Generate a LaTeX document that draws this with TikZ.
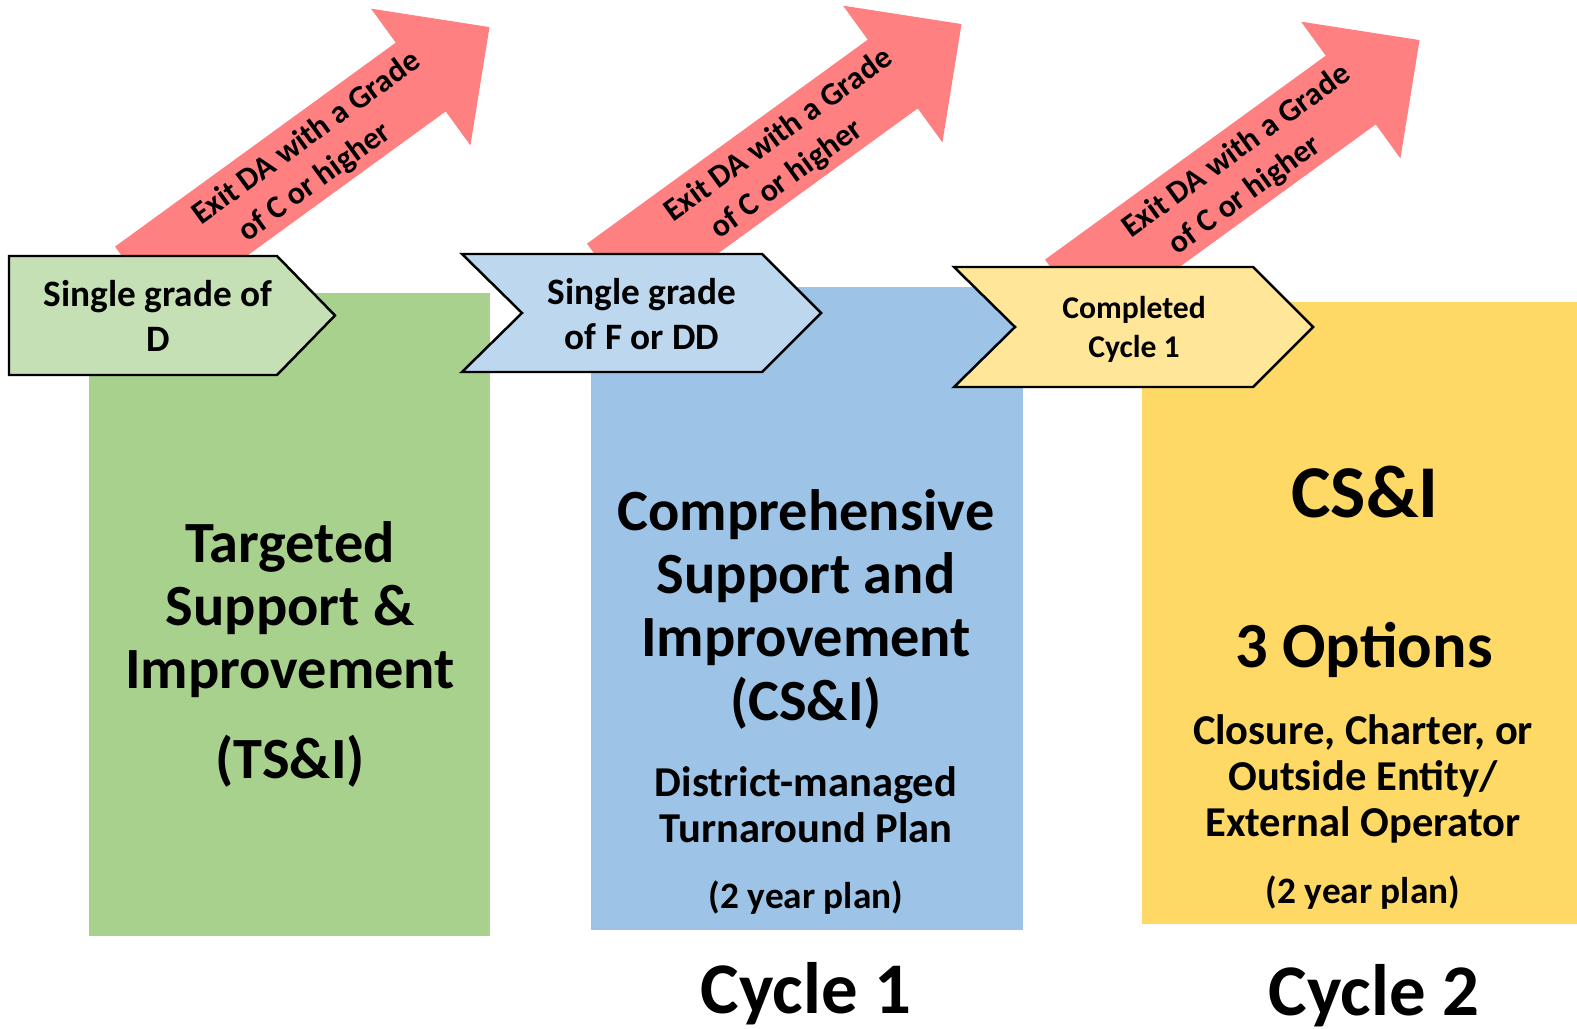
\documentclass[tikz,border=0pt]{standalone}
\usepackage{fontspec}
\setmainfont{Carlito}
\definecolor{exitred}{HTML}{FF8080}
\definecolor{tsigreen}{HTML}{A9D18E}
\definecolor{gradegreen}{HTML}{C5E0B4}
\definecolor{csiblue}{HTML}{9DC3E6}
\definecolor{gradeblue}{HTML}{BDD7EE}
\definecolor{optyellow}{HTML}{FFD966}
\definecolor{gradeyellow}{HTML}{FFE699}
\tikzset{
  exitarrow/.style={fill=exitred},
  exittext/.style={align=center,rotate=36,font={\fontsize{9.1}{11.5}\selectfont\bfseries}},
  gradebox/.style={draw=black,line width=0.7pt,line join=miter},
  gradetext/.style={align=center,font={\fontsize{10.6}{12.8}\selectfont\bfseries}},
  bigtext/.style={align=center,font={\fontsize{16.6}{18}\selectfont\bfseries}},
  subtext/.style={align=center,font={\fontsize{12.1}{13.1}\selectfont\bfseries}},
  plantext/.style={anchor=base,font={\fontsize{10.6}{12.6}\selectfont\bfseries}},
  cycletext/.style={anchor=base,font={\fontsize{20.7}{24}\selectfont\bfseries}},
}
\begin{document}
\begin{tikzpicture}[x=0.01cm,y=-0.01cm]
\useasboundingbox (0,0) rectangle (1577,1028);

\fill[tsigreen](89,293) rectangle (490,936);
\fill[csiblue](591,287) rectangle (1023,930);
\fill[optyellow](1142,302) rectangle (1577,924);

\begin{scope}[shift={(140,281)},rotate=36]
\fill[exitarrow](0,-42.5)--++(347,0)--++(0,-42)--++(85,84.5)--++(-85,84.5)--++(0,-42)--++(-347,0)--cycle;
\node[exittext] (exit1) at (209,3) {\hspace*{5.4pt}Exit DA with a Grade\\of C or higher\hspace*{5.4pt}};
\end{scope}
\begin{scope}[shift={(612,278)},rotate=36]
\fill[exitarrow](0,-42.5)--++(347,0)--++(0,-42)--++(85,84.5)--++(-85,84.5)--++(0,-42)--++(-347,0)--cycle;
\node[exittext] (exit2) at (209,3) {\hspace*{5.4pt}Exit DA with a Grade\\of C or higher\hspace*{5.4pt}};
\end{scope}
\begin{scope}[shift={(1070,294)},rotate=36]
\fill[exitarrow](0,-42.5)--++(347,0)--++(0,-42)--++(85,84.5)--++(-85,84.5)--++(0,-42)--++(-347,0)--cycle;
\node[exittext] (exit3) at (209,3) {\hspace*{5.4pt}Exit DA with a Grade\\of C or higher\hspace*{5.4pt}};
\end{scope}

\draw[gradebox,fill=gradegreen](9,256)--++(268,0)--++(58,59.5)--++(-58,59.5)--++(-268,0)--cycle;
\draw[gradebox,fill=gradeblue](462,254)--++(300,0)--++(59,59)--++(-59,59)--++(-300,0)--++(60,-59)--cycle;
\draw[gradebox,fill=gradeyellow](954,267)--++(299,0)--++(60,60)--++(-60,60)--++(-299,0)--++(61,-60)--cycle;

\node[gradetext] (gradeD) at (158,316) {Single grade of\\D};
\node[gradetext] (gradeF) at (642,314) {Single grade\\of F or DD};
\node[gradetext,font={\fontsize{9}{11.1}\selectfont\bfseries}] (done) at (1134,329) {Completed\\Cycle 1};

\node[bigtext] (tsi) at (290,654) {Targeted\\Support \&\\Improvement\\[7.4pt](TS\&I)};

\node[bigtext] (csi) at (806,609) {Comprehensive\\Support and\\Improvement\\(CS\&I)};
\node[subtext] (turnaround) at (806,805) {District-managed\\Turnaround Plan};
\node[plantext] (plan1) at (806,908) {(2 year plan)};

\node[anchor=base,font={\fontsize{21.2}{24}\selectfont\bfseries}] (csitwo) at (1365,517) {CS\&I};
\node[anchor=base,font={\fontsize{18.3}{21.6}\selectfont\bfseries}] (options) at (1364,667) {3 Options};
\node[subtext] (closure) at (1363,779) {Closure, Charter, or\\Outside Entity/\\External Operator};
\node[plantext] (plan2) at (1363,903) {(2 year plan)};

\node[cycletext] (cycle1) at (806,1013) {Cycle 1};
\node[cycletext] (cycle2) at (1374,1015) {Cycle 2};
\end{tikzpicture}
\end{document}
